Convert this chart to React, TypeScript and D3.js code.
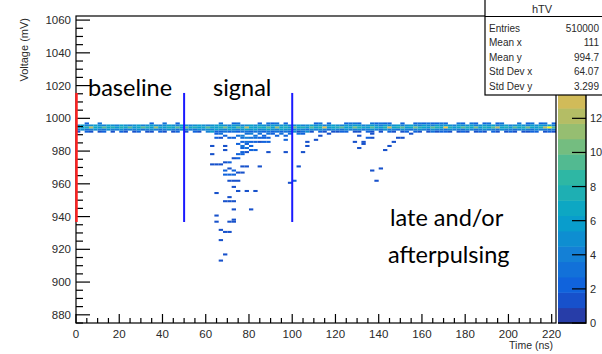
import React from "react";
import * as d3 from "d3";

// ---------- data ----------
const T_DOMAIN: [number, number] = [0, 222];
const V_DOMAIN: [number, number] = [875, 1062.5];
const T_BIN = 2;
const V_BIN = 1.25;

// lower edges (mV) of the baseline band rows
const bandRowV = [996.25, 995, 993.75, 992.5, 991.25];

// counts per 2 ns bin (111 bins) for each band row
const bandTop = [
  0, 0, 2, 0, 0, 3, 0, 0, 0, 0,
  0, 0, 0, 0, 0, 0, 0, 2, 0, 0,
  3, 0, 0, 2, 0, 0, 0, 0, 0, 0,
  0, 0, 0, 3, 0, 0, 2, 3, 0, 0,
  0, 0, 2, 0, 3, 2, 3, 0, 2, 0,
  0, 0, 0, 0, 0, 2, 3, 0, 2, 0,
  0, 0, 2, 3, 3, 2, 0, 0, 3, 2,
  3, 2, 2, 0, 0, 2, 0, 0, 2, 3,
  2, 3, 2, 2, 3, 2, 0, 0, 3, 2,
  0, 3, 2, 0, 2, 3, 0, 2, 3, 0,
  0, 0, 3, 0, 2, 3, 0, 2, 3, 0, 2,
];
const bandUpper = [
  5, 6, 4, 5, 6, 5, 4, 6, 5, 4,
  6, 5, 4, 5, 6, 4, 5, 6, 5, 4,
  5, 6, 5, 4, 6, 5, 4, 5, 6, 5,
  4, 5, 6, 6, 5, 4, 6, 5, 4, 5,
  6, 5, 6, 5, 4, 6, 5, 5, 6, 4,
  5, 6, 4, 5, 6, 5, 6, 4, 5, 6,
  5, 4, 6, 5, 6, 6, 4, 5, 6, 5,
  4, 6, 5, 5, 6, 4, 5, 6, 5, 4,
  6, 5, 4, 6, 5, 6, 5, 4, 6, 5,
  5, 6, 4, 5, 6, 5, 6, 4, 5, 6,
  4, 5, 6, 5, 4, 6, 5, 6, 5, 6, 4,
];
const bandCore = [
  7, 6, 8, 12, 7, 6, 9, 7, 8, 6,
  8, 7, 9, 6, 7, 9, 8, 6, 11, 7,
  6, 8, 7, 9, 6, 10, 7, 8, 6, 7,
  9, 7, 6, 8, 10, 7, 6, 9, 7, 12,
  7, 6, 8, 7, 9, 6, 11, 7, 8, 6,
  10, 7, 8, 6, 9, 7, 8, 14, 6, 7,
  8, 9, 6, 7, 10, 8, 7, 6, 9, 7,
  6, 8, 13, 7, 8, 9, 6, 7, 10, 8,
  7, 6, 9, 8, 7, 15, 8, 6, 7, 9,
  8, 7, 10, 6, 8, 7, 9, 12, 7, 8,
  6, 9, 7, 8, 10, 7, 6, 8, 12, 18, 9,
];
const bandLower = [
  4, 5, 3, 4, 5, 4, 3, 5, 4, 4,
  5, 3, 4, 4, 5, 3, 4, 5, 4, 3,
  4, 5, 4, 3, 5, 4, 4, 3, 5, 4,
  5, 4, 6, 5, 4, 6, 5, 4, 5, 6,
  5, 6, 4, 5, 6, 5, 4, 6, 5, 5,
  4, 5, 4, 3, 5, 4, 5, 4, 3, 5,
  4, 3, 5, 4, 4, 5, 3, 4, 5, 4,
  3, 5, 4, 4, 3, 5, 4, 3, 4, 5,
  4, 3, 5, 4, 4, 3, 5, 4, 4, 3,
  5, 4, 3, 4, 5, 4, 4, 3, 5, 4,
  4, 3, 4, 5, 4, 3, 5, 4, 4, 3, 4,
];
const bandBottom = [
  1, 0, 2, 1, 0, 1, 2, 0, 1, 0,
  2, 1, 0, 1, 2, 0, 1, 1, 0, 2,
  1, 0, 1, 2, 0, 1, 0, 2, 1, 0,
  2, 3, 2, 2, 3, 2, 3, 2, 3, 3,
  2, 3, 3, 2, 3, 2, 3, 2, 3, 2,
  2, 1, 3, 3, 1, 0, 2, 1, 0, 1,
  1, 2, 2, 0, 1, 1, 0, 2, 1, 0,
  1, 0, 2, 1, 0, 1, 2, 0, 1, 1,
  0, 1, 2, 1, 2, 2, 1, 0, 1, 2,
  1, 0, 1, 2, 1, 0, 2, 1, 0, 1,
  2, 1, 0, 1, 1, 2, 2, 0, 1, 2, 1,
];
const bandRows = [bandTop, bandUpper, bandCore, bandLower, bandBottom];

// scattered entries below the baseline: [time ns, voltage mV, count]
const pulseCells: [number, number, number][] = [
  // just under the band, signal window
  [60, 991.5, 2], [62, 991.5, 3], [64, 990.5, 2], [66, 990.5, 3], [68, 989.5, 2],
  [64, 988.5, 2], [66, 988.5, 1], [70, 988.5, 2], [72, 988.5, 2], [74, 989.5, 3],
  [76, 989.5, 4], [78, 990.5, 3], [80, 990.5, 4], [82, 989.5, 3], [84, 990.5, 3],
  [86, 989.5, 2], [88, 990.5, 3], [90, 990.5, 2], [92, 989.5, 2], [94, 990.5, 3],
  [96, 989.5, 2], [98, 990.5, 3], [100, 991.5, 3], [102, 990.5, 3], [104, 990.5, 2],
  [106, 991.5, 2],
  // main cluster
  [76, 987.5, 3], [78, 987.5, 4], [80, 988.5, 3], [82, 987.5, 3], [84, 988.5, 2],
  [86, 987.5, 2], [88, 988.5, 2], [76, 986, 2], [78, 986, 3], [80, 986, 2],
  [82, 985, 2], [86, 985, 2], [88, 985, 2], [74, 984, 2], [76, 983.5, 3],
  [78, 984, 2], [80, 983, 2], [76, 982, 2], [78, 982, 3], [80, 981, 2],
  [82, 980.5, 2], [76, 979.7, 2], [78, 979.7, 1], [74, 978.5, 2], [76, 977.5, 2],
  [62, 983.7, 1], [68, 982.5, 1], [68, 980, 1], [88, 979.6, 1], [96, 986.8, 2],
  [96, 979, 1], [84, 985, 1],
  // late / afterpulses
  [112, 989, 1], [116, 990, 1], [110, 987.4, 1], [106, 986.2, 1], [106, 983, 1],
  [104, 979.6, 1], [130, 989.2, 1], [128, 986.2, 1], [132, 986.2, 1], [132, 984, 1],
  [134, 987.7, 2], [136, 987.7, 1], [136, 990.5, 1], [130, 982, 1], [136, 968.5, 1],
  [140, 969.5, 1], [138, 962.3, 1], [142, 980, 1], [144, 983, 1], [146, 986.2, 1],
  [148, 988.2, 1], [150, 988.2, 1], [154, 990.3, 1], [156, 991.3, 1], [164, 991.3, 1],
  [102, 971, 1], [100, 961.3, 2], [98, 960.7, 1],
  // deep signal tail
  [62, 977.6, 1], [62, 972, 1], [64, 972, 1], [66, 972, 1], [68, 972.7, 1],
  [70, 972.7, 2], [72, 975.8, 1], [74, 975.8, 2], [76, 970.9, 1], [78, 970.9, 1],
  [84, 970.9, 1], [68, 968.5, 2], [70, 968.8, 1], [72, 968.5, 2], [68, 966, 2],
  [72, 966, 2], [70, 965.4, 2], [74, 966.8, 1], [76, 966.8, 1], [70, 962, 1],
  [72, 962, 1], [74, 962.3, 1], [72, 958.3, 1], [74, 955.6, 1], [78, 956.2, 1],
  [82, 955, 1], [64, 954.2, 1], [70, 952.2, 1], [68, 949.7, 1], [70, 949.7, 1],
  [72, 949.7, 1], [72, 944.2, 1], [80, 944.2, 1], [64, 940.5, 1], [72, 938.5, 1],
  [64, 936.5, 1], [70, 936.5, 1], [72, 936.5, 1], [66, 932.4, 1], [68, 930.4, 1],
  [70, 930.4, 1], [66, 925, 1], [68, 917, 1], [66, 912.9, 1],
];

// window markers
const windowTimes = [50, 100];
const windowRange: [number, number] = [936.7, 1015.5];

const xMajor = d3.range(0, 221, 20);
const xMinor = d3.range(0, 222, 5);
const yMajor = d3.range(880, 1061, 20);
const yMinor = d3.range(875, 1062, 5);
const zMajor = d3.range(0, 19, 2);
const N_LEVELS = 20;

const statsTitle = "hTV";
const statsLabels = ["Entries", "Mean x", "Mean y", "Std Dev x", "Std Dev y"];
const statsValues = ["510000", "111", "994.7", "64.07", "3.299"];

const annotations = [
  { text: "baseline", x: 88, y: 96, size: 23.5 },
  { text: "signal", x: 213, y: 96, size: 23.5 },
  { text: "late and/or", x: 390, y: 226, size: 23.5 },
  { text: "afterpulsing", x: 388, y: 263, size: 23.5 },
];

// ROOT kBird palette
const birdStops = [0, 0.125, 0.25, 0.375, 0.5, 0.625, 0.75, 0.875, 1];
const birdR = [0.2082, 0.0592, 0.078, 0.0232, 0.1802, 0.5301, 0.8186, 0.9956, 0.9764];
const birdG = [0.1664, 0.3599, 0.5041, 0.6419, 0.7178, 0.7492, 0.7328, 0.7862, 0.9832];
const birdB = [0.5293, 0.8684, 0.8385, 0.7914, 0.6425, 0.4662, 0.3499, 0.1968, 0.0539];

function bird(f: number): string {
  const r = d3.scaleLinear().domain(birdStops).range(birdR).clamp(true)(f);
  const g = d3.scaleLinear().domain(birdStops).range(birdG).clamp(true)(f);
  const b = d3.scaleLinear().domain(birdStops).range(birdB).clamp(true)(f);
  return d3.rgb(r * 255, g * 255, b * 255).formatHex();
}
const NCOL = 255;
const palette = d3.range(NCOL).map((i) => bird(i / (NCOL - 1)));

// ---------- geometry ----------
const FX0 = 76, FX1 = 556, FY0 = 16, FY1 = 323;
const BAR_X0 = 558, BAR_X1 = 586;
const FONT = "'Liberation Sans', Arial, Helvetica, sans-serif";
const TEXT = "#2a2a2a";

export default function App() {
  const x = d3.scaleLinear().domain(T_DOMAIN).range([FX0, FX1]);
  const y = d3.scaleLinear().domain(V_DOMAIN).range([FY1, FY0]);

  // fill histogram
  const hist = new Map<string, { tb: number; vb: number; c: number }>();
  const fill = (t: number, v: number, c: number) => {
    if (c <= 0) return;
    const tb = Math.floor(t / T_BIN + 1e-9);
    const vb = Math.floor((v - V_DOMAIN[0]) / V_BIN + 1e-9);
    const k = tb + ":" + vb;
    const e = hist.get(k);
    if (e) e.c += c;
    else hist.set(k, { tb, vb, c });
  };
  bandRows.forEach((row, r) =>
    row.forEach((c, i) => fill(i * T_BIN, bandRowV[r], c))
  );
  pulseCells.forEach(([t, v, c]) => fill(t, v, c));
  const cells = Array.from(hist.values());

  const zmin = 0;
  const zmax = d3.max(cells, (d) => d.c) ?? 1;
  const z = d3.scaleLinear().domain([zmin, zmax]).range([FY1, FY0]);
  const colorOf = (c: number) => {
    let lvl = Math.floor(0.01 + ((c - zmin) * N_LEVELS) / (zmax - zmin));
    if (lvl >= N_LEVELS) lvl = N_LEVELS - 1;
    const idx = Math.min(NCOL - 1, Math.floor(((lvl + 0.99) * NCOL) / N_LEVELS));
    return palette[idx];
  };
  const dz = (zmax - zmin) / N_LEVELS;
  const levels = d3.range(N_LEVELS);

  const statsX0 = 485, statsX1 = 603, statsTitleY1 = 16.5, statsY1 = 95;
  const zVisible = zMajor.filter((v) => z(v) > statsY1 + 8);

  return (
    <svg width={602} height={354} style={{ display: "block", position: "absolute", left: 0, top: 0 }}>
      <rect x={0} y={0} width={602} height={354} fill="#fff" />

      {/* histogram cells */}
      <g>
        {cells.map((d, i) => {
          const t0 = d.tb * T_BIN;
          const v0 = V_DOMAIN[0] + d.vb * V_BIN;
          return (
            <rect
              key={i}
              x={x(t0)}
              y={y(v0 + V_BIN)}
              width={x(t0 + T_BIN) - x(t0)}
              height={y(v0) - y(v0 + V_BIN)}
              fill={colorOf(d.c)}
            />
          );
        })}
      </g>

      {/* frame */}
      <rect x={FX0} y={FY0} width={FX1 - FX0} height={FY1 - FY0} fill="none" stroke="#000" strokeWidth={1.2} />

      {/* axis ticks */}
      <g stroke="#000" strokeWidth={1.2}>
        {xMinor.map((t) => (
          <line key={"xm" + t} x1={x(t)} x2={x(t)} y1={FY1} y2={FY1 - (t % 20 === 0 ? 9 : 5)} />
        ))}
        {yMinor.map((v) => (
          <line key={"ym" + v} x1={FX0} x2={FX0 + ((v - 880) % 20 === 0 ? 14 : 7)} y1={y(v)} y2={y(v)} />
        ))}
      </g>
      <g fontFamily={FONT} fontSize={11.5} fill={TEXT}>
        {xMajor.map((t) => (
          <text key={"xl" + t} x={x(t)} y={338} textAnchor="middle">{t}</text>
        ))}
        {yMajor.map((v) => (
          <text key={"yl" + v} x={71} y={y(v)} dy="0.36em" textAnchor="end">{v}</text>
        ))}
      </g>
      <text x={553} y={349} textAnchor="end" fontFamily={FONT} fontSize={10.5} fill={TEXT}>Time (ns)</text>
      <text
        transform={`translate(28,18) rotate(-90)`}
        textAnchor="end"
        fontFamily={FONT}
        fontSize={11}
        fill={TEXT}
      >
        Voltage (mV)
      </text>

      {/* window markers */}
      <line x1={FX0 + 0.5} x2={FX0 + 0.5} y1={y(windowRange[1])} y2={y(windowRange[0])} stroke="#ff2020" strokeWidth={2.5} />
      {windowTimes.map((t) => (
        <line key={"w" + t} x1={x(t)} x2={x(t)} y1={y(windowRange[1])} y2={y(windowRange[0])} stroke="#1a1aff" strokeWidth={2} />
      ))}

      {/* colour bar */}
      <g>
        {levels.map((k) => {
          const idx = Math.min(NCOL - 1, Math.floor(((k + 0.99) * NCOL) / N_LEVELS));
          return (
            <rect
              key={"cb" + k}
              x={BAR_X0}
              y={z(zmin + (k + 1) * dz)}
              width={BAR_X1 - BAR_X0}
              height={z(zmin + k * dz) - z(zmin + (k + 1) * dz) + 0.5}
              fill={palette[idx]}
            />
          );
        })}
        <path
          d={`M${BAR_X0},${FY1} H${BAR_X1} V${FY0}`}
          fill="none"
          stroke="#000"
          strokeWidth={1.4}
        />
        {zVisible.map((v) => (
          <line key={"zt" + v} x1={BAR_X1} x2={BAR_X1 - 14} y1={z(v)} y2={z(v)} stroke="#000" strokeWidth={1.2} />
        ))}
        {zVisible.map((v) => (
          <text key={"zl" + v} x={590} y={z(v)} dy="0.36em" fontFamily={FONT} fontSize={11} fill={TEXT}>{v}</text>
        ))}
      </g>

      {/* stats box */}
      <g>
        <rect x={statsX0} y={-1} width={statsX1 - statsX0} height={statsY1 + 1} fill="#fff" stroke="#000" strokeWidth={1.2} />
        <line x1={statsX0} x2={statsX1} y1={statsTitleY1} y2={statsTitleY1} stroke="#000" strokeWidth={1.2} />
        <text x={(statsX0 + 599) / 2} y={12.5} textAnchor="middle" fontFamily={FONT} fontSize={11} fill={TEXT}>{statsTitle}</text>
        {statsLabels.map((l, i) => (
          <g key={l}>
            <text x={489} y={31.5 + i * 14.6} fontFamily={FONT} fontSize={10} fill={TEXT}>{l}</text>
            <text x={599} y={31.5 + i * 14.6} textAnchor="end" fontFamily={FONT} fontSize={10} fill={TEXT}>{statsValues[i]}</text>
          </g>
        ))}
      </g>

      {/* annotations */}
      <g fontFamily="Lato, 'Open Sans', sans-serif" fill="#000">
        {annotations.map((a) => (
          <text key={a.text} x={a.x} y={a.y} fontSize={a.size}>{a.text}</text>
        ))}
      </g>
    </svg>
  );
}
